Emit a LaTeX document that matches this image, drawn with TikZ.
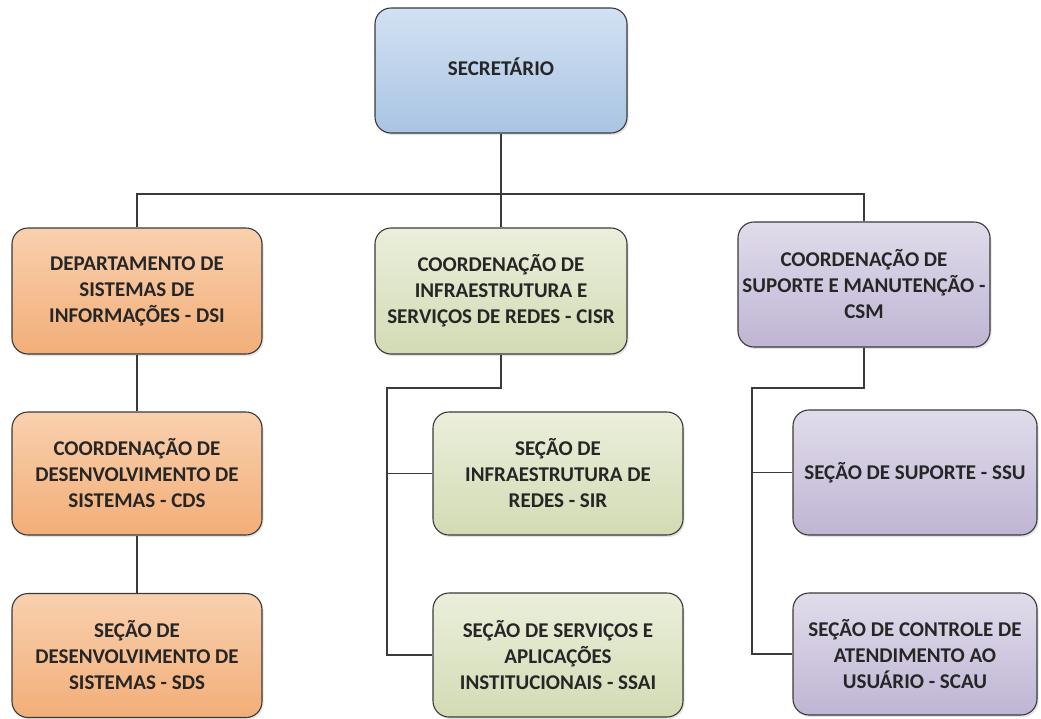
\documentclass[tikz,border=0pt]{standalone}
\usepackage{fontspec}
\setmainfont{Carlito}
\usetikzlibrary{shadows}
\definecolor{lineC}{HTML}{3A3A3A}
\definecolor{txtC}{HTML}{262626}
\definecolor{blueT}{HTML}{D2E1F3}
\definecolor{blueB}{HTML}{A9C4E2}
\definecolor{orT}{HTML}{F9D0AE}
\definecolor{orB}{HTML}{F2AE78}
\definecolor{grT}{HTML}{EBEFDB}
\definecolor{grB}{HTML}{D2DBB4}
\definecolor{puT}{HTML}{E1DCEB}
\definecolor{puB}{HTML}{BFB5D4}
\tikzset{
  orgbox/.style={draw=lineC, line width=1.1pt, rounded corners=16pt, rectangle,
    inner sep=0pt, align=center, text=txtC,
    font=\fontsize{21}{26}\selectfont\bfseries,
    drop shadow={opacity=0.22, shadow xshift=1.5pt, shadow yshift=-2pt}},
  bluebox/.style={orgbox, top color=blueT, bottom color=blueB},
  orbox/.style={orgbox, top color=orT, bottom color=orB},
  grbox/.style={orgbox, top color=grT, bottom color=grB},
  pubox/.style={orgbox, top color=puT, bottom color=puB},
  conn/.style={draw=lineC, line width=1.3pt}
}
\begin{document}
\begin{tikzpicture}[x=1pt, y=-1pt]
\useasboundingbox (0,0) rectangle (1041,718);
\fill[white] (0,0) rectangle (1041,718);

\node[bluebox, minimum width=252pt, minimum height=125pt] (sec) at (501,70.5)
  {\raisebox{8pt}{SECRETÁRIO}};

\node[orbox, minimum width=250pt, minimum height=126pt] (dsi) at (137,291)
  {DEPARTAMENTO DE\\SISTEMAS DE\\INFORMAÇÕES - DSI};
\node[grbox, minimum width=252pt, minimum height=126pt] (cisr) at (501,291)
  {COORDENAÇÃO DE\\INFRAESTRUTURA E\\SERVIÇOS DE REDES - CISR};
\node[pubox, minimum width=252pt, minimum height=125pt] (csm) at (864,284.5)
  {COORDENAÇÃO DE\\SUPORTE E MANUTENÇÃO -\\CSM};

\node[orbox, minimum width=250pt, minimum height=123pt] (cds) at (137,473.5)
  {COORDENAÇÃO DE\\DESENVOLVIMENTO DE\\SISTEMAS - CDS};
\node[orbox, minimum width=250pt, minimum height=124pt] (sds) at (137,655.5)
  {SEÇÃO DE\\DESENVOLVIMENTO DE\\SISTEMAS - SDS};

\node[grbox, minimum width=250pt, minimum height=123pt] (sir) at (558,473.5)
  {SEÇÃO DE\\INFRAESTRUTURA DE\\REDES - SIR};
\node[grbox, minimum width=250pt, minimum height=124pt] (ssai) at (558,655)
  {SEÇÃO DE SERVIÇOS E\\APLICAÇÕES\\INSTITUCIONAIS - SSAI};

\node[pubox, minimum width=244pt, minimum height=125pt] (ssu) at (915,472.5)
  {SEÇÃO DE SUPORTE - SSU};
\node[pubox, minimum width=244pt, minimum height=122pt] (scau) at (915,654)
  {SEÇÃO DE CONTROLE DE\\ATENDIMENTO AO\\USUÁRIO - SCAU};

\coordinate (hb) at (501,194);
\coordinate (c1) at (387,388);
\coordinate (c2) at (752,388);

\draw[conn] (sec.south) -- (cisr.north);
\draw[conn] (dsi.north) |- (hb) -| (csm.north);
\draw[conn] (dsi.south) -- (cds.north);
\draw[conn] (cds.south) -- (sds.north);

\draw[conn] (cisr.south) |- (c1) |- (ssai.west);
\draw[conn] (c1 |- sir.west) -- (sir.west);

\draw[conn] (csm.south) |- (c2) |- (scau.west);
\draw[conn] (c2 |- ssu.west) -- (ssu.west);
\end{tikzpicture}
\end{document}
